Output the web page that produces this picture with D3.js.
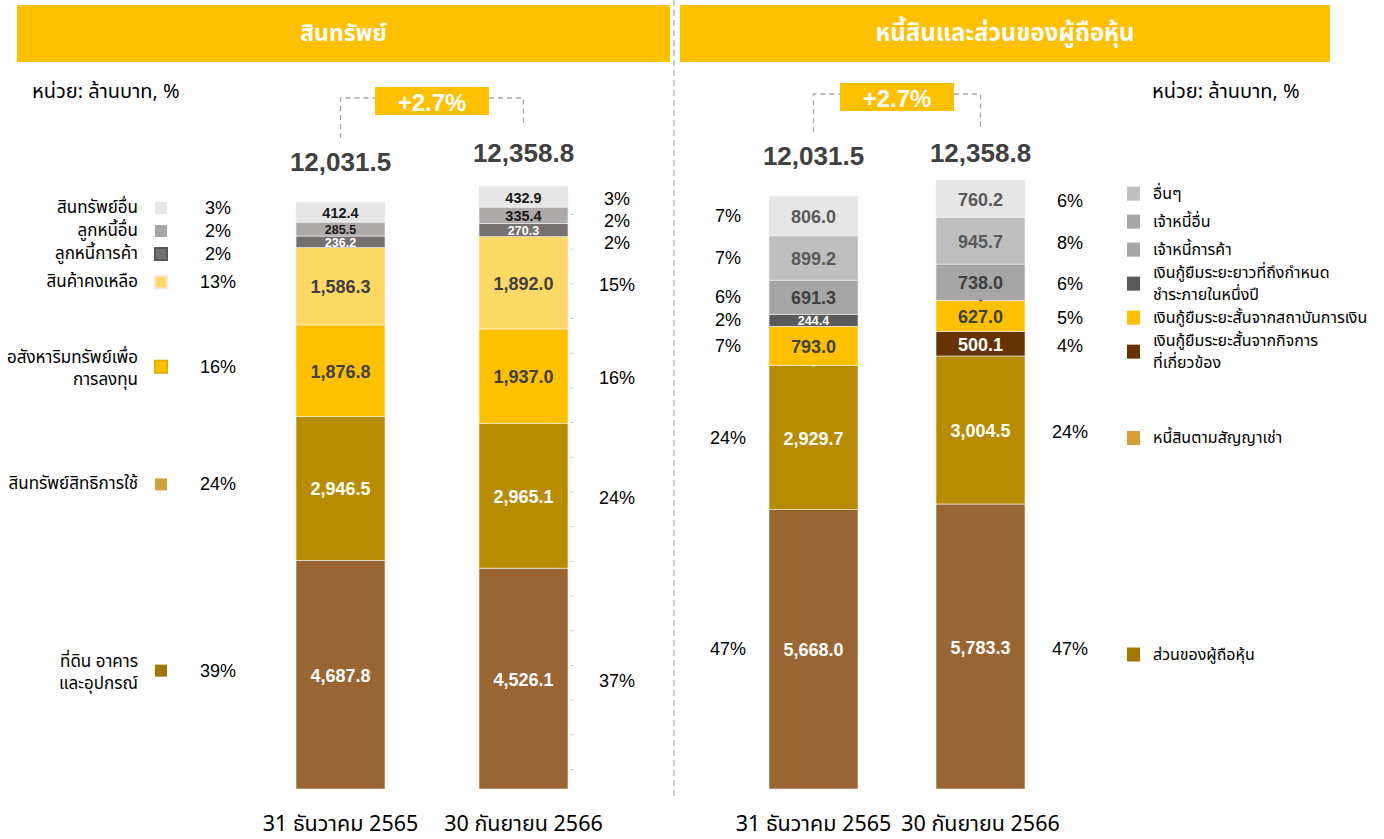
<!DOCTYPE html>
<html>
<head>
<meta charset="utf-8">
<script src="https://cdn.jsdelivr.net/npm/d3@7"></script>
<style>
  html, body { margin: 0; padding: 0; background: #fff; }
  svg { display: block; }
  text { font-family: Tahoma, "Noto Sans Thai", "Noto Sans", "DejaVu Sans", sans-serif; }
  .num { font-family: "Liberation Sans", Arial, sans-serif; }
</style>
</head>
<body>
<svg id="chart" width="1384" height="839"></svg>
<script>
// ---------------- DATA ----------------
const categories = ["31 ธันวาคม 2565", "30 กันยายน 2566"];
const panelTitles = ["สินทรัพย์", "หนี้สินและส่วนของผู้ถือหุ้น"];
const unitLabel = "หน่วย: ล้านบาท, %";
const growthLabel = "+2.7%";

// Assets (bottom -> top)
const assetSeries = [
  ["ที่ดิน อาคาร", "และอุปกรณ์"],
  ["สินทรัพย์สิทธิการใช้"],
  ["อสังหาริมทรัพย์เพื่อ", "การลงทุน"],
  ["สินค้าคงเหลือ"],
  ["ลูกหนี้การค้า"],
  ["ลูกหนี้อื่น"],
  ["สินทรัพย์อื่น"]
];
const assetValues2565 = [4687.8, 2946.5, 1876.8, 1586.3, 236.2, 285.5, 412.4];
const assetValues2566 = [4526.1, 2965.1, 1937.0, 1892.0, 270.3, 335.4, 432.9];
const assetPct2565 = ["39%", "24%", "16%", "13%", "2%", "2%", "3%"];
const assetPct2566 = ["37%", "24%", "16%", "15%", "2%", "2%", "3%"];
const assetTotals = [12031.5, 12358.8];

// Liabilities & equity (bottom -> top)
const liabSeries = [
  ["ส่วนของผู้ถือหุ้น"],
  ["หนี้สินตามสัญญาเช่า"],
  ["เงินกู้ยืมระยะสั้นจากกิจการ", "ที่เกี่ยวข้อง"],
  ["เงินกู้ยืมระยะสั้นจากสถาบันการเงิน"],
  ["เงินกู้ยืมระยะยาวที่ถึงกำหนด", "ชำระภายในหนึ่งปี"],
  ["เจ้าหนี้การค้า"],
  ["เจ้าหนี้อื่น"],
  ["อื่นๆ"]
];
const liabValues2565 = [5668.0, 2929.7, 0, 793.0, 244.4, 691.3, 899.2, 806.0];
const liabValues2566 = [5783.3, 3004.5, 500.1, 627.0, 0, 738.0, 945.7, 760.2];
const liabPct2565 = ["47%", "24%", "", "7%", "2%", "6%", "7%", "7%"];
const liabPct2566 = ["47%", "24%", "4%", "5%", "", "6%", "8%", "6%"];
const liabTotals = [12031.5, 12358.8];

// ---------------- STYLE ----------------
const assetBarColors   = ["#996633", "#b88c00", "#ffc000", "#ffd966", "#767171", "#aeaaaa", "#e7e6e6"];
const assetSwatch      = ["#a07800", "#d4a03a", "#ffc000", "#ffd966", "#767171", "#a6a6a6", "#e7e6e6"];
const assetSwatchEdge  = [null, null, "#e6ac00", "#fbe5d6", "#595959", null, null];
const assetLabelColors = ["#ffffff", "#ffffff", "#404040", "#404040", "#ffffff", "#1a1a1a", "#1a1a1a"];

const liabBarColors    = ["#996633", "#b88c00", "#663300", "#ffc000", "#595959", "#a6a6a6", "#bfbfbf", "#e6e6e6"];
const liabSwatch       = ["#a07800", "#d4a03a", "#663300", "#ffc000", "#595959", "#a6a6a6", "#a6a6a6", "#bfbfbf"];
const liabLabelColors  = ["#ffffff", "#ffffff", "#ffffff", "#404040", "#ffffff", "#404040", "#595959", "#595959"];

const fmt = d3.format(",.1f");
const svg = d3.select("#chart");
const BASE = 789, BAR_W = 89;

// ---------------- SCALES ----------------
const yL = d3.scaleLinear().domain([0, d3.max(assetTotals)]).range([BASE, 186]);
const yR = d3.scaleLinear().domain([0, d3.max(liabTotals)]).range([BASE, 180]);
const xL = d3.scalePoint().domain(categories).range([340.5, 523.5]);
const xR = d3.scalePoint().domain(categories).range([813.5, 980.5]);

// ---------------- HEADERS ----------------
const headers = [
  {x0: 17, x1: 670, title: panelTitles[0], fs: 23},
  {x0: 680, x1: 1330, title: panelTitles[1], fs: 24}
];
headers.forEach(h => {
  svg.append("rect").attr("x", h.x0).attr("y", 5).attr("width", h.x1 - h.x0).attr("height", 57).attr("fill", "#ffc000");
  svg.append("text").attr("x", (h.x0 + h.x1) / 2).attr("y", 34).attr("text-anchor", "middle")
    .attr("dominant-baseline", "central").attr("fill", "#fff").attr("font-size", h.fs).attr("font-weight", "bold").text(h.title);
});
svg.append("line").attr("x1", 674).attr("x2", 674).attr("y1", 0).attr("y2", 797)
  .attr("stroke", "#a6a6a6").attr("stroke-width", 1.2).attr("stroke-dasharray", "6,4");

svg.append("text").attr("x", 32).attr("y", 92).attr("dominant-baseline", "central").attr("font-size", 20).attr("fill", "#000").text(unitLabel);
svg.append("text").attr("x", 1152).attr("y", 92).attr("dominant-baseline", "central").attr("font-size", 20).attr("fill", "#000").text(unitLabel);

// ---------------- helpers ----------------
function stackOf(values) {
  let acc = 0;
  return values.map((v, i) => { const s = {i, v, y0: acc, y1: acc + v}; acc += v; return s; });
}
function relaxDown(items, gap) {
  const sorted = items.slice().sort((a, b) => a.y - b.y);
  for (let k = 1; k < sorted.length; k++) sorted[k].y = Math.max(sorted[k].y, sorted[k - 1].y + gap);
  return items;
}
function relaxUp(items, gapFn) {
  const sorted = items.slice().sort((a, b) => b.y - a.y);
  for (let k = 1; k < sorted.length; k++) sorted[k].y = Math.min(sorted[k].y, sorted[k - 1].y - gapFn(sorted[k], sorted[k - 1]));
  return items;
}

function drawBar(g, x, y, values, barColors, labelColors) {
  const segs = stackOf(values);
  g.selectAll(null).data(segs.filter(s => s.v > 0)).join("rect")
    .attr("x", x - BAR_W / 2).attr("width", BAR_W)
    .attr("y", s => y(s.y1)).attr("height", s => y(s.y0) - y(s.y1))
    .attr("fill", s => barColors[s.i]).attr("stroke", "#f2f2f2").attr("stroke-width", 0.6);
  const h = s => y(s.y0) - y(s.y1);
  g.selectAll(null).data(segs).join("text")
    .attr("class", "num")
    .attr("x", x).attr("y", s => s.v > 0 ? (y(s.y0) + y(s.y1)) / 2 + 1 : y(s.y0) - 1)
    .attr("text-anchor", "middle").attr("dominant-baseline", "central")
    .attr("font-weight", "bold")
    .attr("font-size", s => s.v === 0 ? 11 : h(s) < 16 ? 12.5 : h(s) < 23 ? 14.5 : 18)
    .attr("fill", s => s.v > 0 ? labelColors[s.i] : labelColors[Math.max(0, s.i - 1)])
    .text(s => s.v > 0 ? fmt(s.v) : "-");
  return segs;
}

function drawPercents(g, segs, pcts, y, xPos, gap, offset) {
  const items = segs.filter(s => pcts[s.i] !== "").map(s => ({t: pcts[s.i], y: (y(s.y0) + y(s.y1)) / 2}));
  relaxDown(items, gap);
  g.selectAll(null).data(items).join("text")
    .attr("class", "num")
    .attr("x", xPos).attr("y", d => d.y + offset)
    .attr("text-anchor", "middle").attr("dominant-baseline", "central")
    .attr("font-size", 18).attr("fill", "#000").text(d => d.t);
  return items;
}

function drawGrowth(g, x, y, totals, boxY) {
  const c0 = x(categories[0]), c1 = x(categories[1]);
  const labelYs = totals.map(t => Math.max(y(t) - 40, 153));
  const mid = (c0 + c1) / 2, bw = 114, bh = 28;
  const lineY = boxY + bh / 2 - 3;
  g.append("path")
    .attr("d", `M${c0},${labelYs[0] - 24}V${lineY}H${mid - bw / 2}M${mid + bw / 2},${lineY}H${c1}V${labelYs[1] - 26}`)
    .attr("stroke", "#a6a6a6").attr("stroke-width", 1.3).attr("stroke-dasharray", "5,4").attr("fill", "none");
  g.append("rect").attr("x", mid - bw / 2).attr("y", boxY).attr("width", bw).attr("height", bh).attr("fill", "#ffc000");
  g.append("text").attr("class", "num").attr("x", mid).attr("y", boxY + bh / 2 + 1).attr("text-anchor", "middle")
    .attr("dominant-baseline", "central").attr("fill", "#fff").attr("font-weight", "bold").attr("font-size", 24).text(growthLabel);
  g.selectAll(null).data(totals).join("text").attr("class", "num")
    .attr("x", (d, i) => x(categories[i])).attr("y", (d, i) => labelYs[i])
    .attr("text-anchor", "middle").attr("dominant-baseline", "central")
    .attr("font-weight", "bold").attr("font-size", 26).attr("fill", "#404040").text(d => fmt(d));
}

function drawCategories(g, x) {
  g.selectAll(null).data(categories).join("text")
    .attr("x", d => x(d)).attr("y", 824).attr("text-anchor", "middle").attr("dominant-baseline", "central")
    .attr("font-size", 21.5).attr("fill", "#000").text(d => d);
}

// ---------------- LEFT PANEL ----------------
const gL = svg.append("g");
const segsA1 = drawBar(gL, xL(categories[0]), yL, assetValues2565, assetBarColors, assetLabelColors);
const segsA2 = drawBar(gL, xL(categories[1]), yL, assetValues2566, assetBarColors, assetLabelColors);

// faint axis ticks right of second bar
gL.append("g").attr("transform", `translate(${xL(categories[1]) + BAR_W / 2 + 2},0)`)
  .call(d3.axisRight(yL).tickValues(d3.range(410, 12000, 711)).tickSize(4).tickFormat(""))
  .call(a => a.select(".domain").remove())
  .call(a => a.selectAll("line").attr("stroke", "#d0d0d0"));

// left legend + percents (positions follow first bar's segments)
const legA = segsA1.map(s => ({i: s.i, y: (yL(s.y0) + yL(s.y1)) / 2}));
relaxDown(legA, 23);
legA.forEach(d => d.y -= 4);
const legAG = gL.append("g");
legA.forEach(d => {
  const lines = assetSeries[d.i];
  const t = legAG.append("text").attr("x", 138).attr("text-anchor", "end").attr("font-size", 17).attr("fill", "#000")
    .attr("dominant-baseline", "central");
  lines.forEach((ln, k) => t.append("tspan").attr("x", 138).attr("y", d.y + (lines.length > 1 ? (k === 0 ? -9 : 13) : 0)).text(ln));
  const edge = assetSwatchEdge[d.i];
  legAG.append("rect").attr("x", 155).attr("y", d.y - 6).attr("width", 12).attr("height", 12)
    .attr("fill", assetSwatch[d.i]).attr("stroke", edge || "none").attr("stroke-width", edge ? 2 : 0);
  legAG.append("text").attr("class", "num").attr("x", 218).attr("y", d.y).attr("text-anchor", "middle").attr("dominant-baseline", "central")
    .attr("font-size", 18).attr("fill", "#000").text(assetPct2565[d.i]);
});
drawPercents(gL, segsA2, assetPct2566, yL, xL(categories[1]) + BAR_W / 2 + 49, 22, 2);
drawGrowth(gL, xL, yL, assetTotals, 87);
drawCategories(gL, xL);

// ---------------- RIGHT PANEL ----------------
const gR = svg.append("g");
const segsL1 = drawBar(gR, xR(categories[0]), yR, liabValues2565, liabBarColors, liabLabelColors);
const segsL2 = drawBar(gR, xR(categories[1]), yR, liabValues2566, liabBarColors, liabLabelColors);
drawPercents(gR, segsL1, liabPct2565, yR, xR(categories[0]) - BAR_W / 2 - 41, 22, 0);
drawPercents(gR, segsL2, liabPct2566, yR, xR(categories[1]) + BAR_W / 2 + 45, 22, 2);
drawGrowth(gR, xR, yR, liabTotals, 83);
drawCategories(gR, xR);

// right legend (positions follow second bar's segments)
const legL = segsL2.map(s => ({i: s.i, y: (yR(s.y0) + yR(s.y1)) / 2 + 8}));
relaxUp(legL, (a, b) => (liabSeries[a.i].length > 1 || liabSeries[b.i].length > 1) ? 34 : 28);
const legLG = gR.append("g");
legL.forEach(d => {
  const lines = liabSeries[d.i];
  legLG.append("rect").attr("x", 1127).attr("y", d.y - 7).attr("width", 13).attr("height", 14).attr("fill", liabSwatch[d.i]);
  const t = legLG.append("text").attr("font-size", 16).attr("fill", "#000").attr("dominant-baseline", "central");
  lines.forEach((ln, k) => t.append("tspan").attr("x", 1153).attr("y", d.y + (lines.length > 1 ? (k === 0 ? -11 : 11) : 0)).text(ln));
});
</script>
</body>
</html>
